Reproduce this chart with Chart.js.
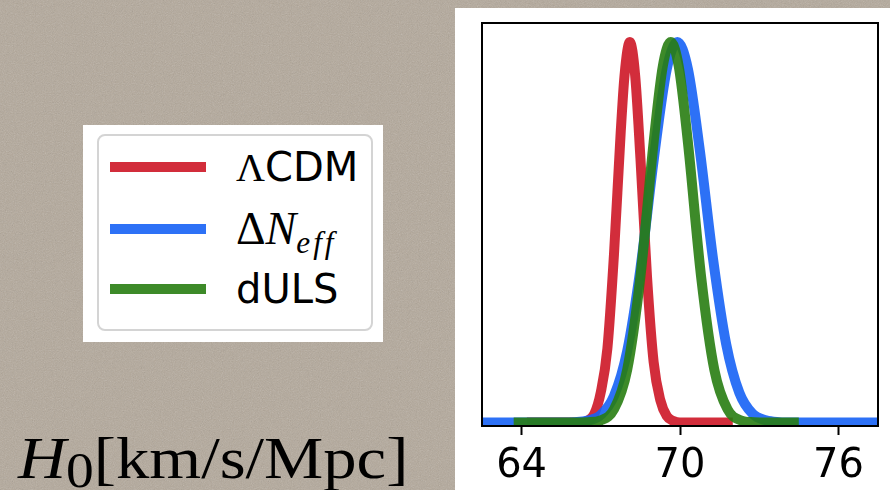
<!DOCTYPE html>
<html>
<head>
<meta charset="utf-8">
<script src="https://cdn.jsdelivr.net/npm/chart.js@4.4.1/dist/chart.umd.min.js"></script>
<style>
  html, body { margin: 0; padding: 0; }
  body {
    width: 890px; height: 490px; overflow: hidden; position: relative;
    background-color: #b3a89a;
    background-image: url("data:image/svg+xml;utf8,<svg xmlns='http://www.w3.org/2000/svg' width='256' height='256'><filter id='n'><feTurbulence type='fractalNoise' baseFrequency='0.9' numOctaves='3' stitchTiles='stitch'/><feColorMatrix type='saturate' values='0'/></filter><rect width='100%' height='100%' filter='url(%23n)' opacity='0.32'/></svg>");
  }
  #panel { position: absolute; left: 455px; top: 8px; width: 435px; height: 482px; background: #fff; }
  #legend { position: absolute; left: 83px; top: 125px; width: 300px; height: 217px; background: #fff; }
  #legend .frame {
    position: absolute; left: 14px; top: 9px; width: 272px; height: 193px;
    border: 2px solid #d4d4d4; border-radius: 8px;
  }
  #legend .row { position: absolute; left: 27px; height: 40px; display: flex; align-items: center; }
  #legend .swatch { width: 96px; height: 10px; margin-right: 30px; }
  #legend .label { font-family: "DejaVu Sans", sans-serif; font-size: 40px; line-height: 40px; color: #000; white-space: nowrap; }
  #legend .cm { font-family: "Liberation Serif", serif; }
  #legend .label.cm { font-size: 46px; }
  #legend .cm i { font-style: italic; }
  #legend .cm sub { font-size: 0.68em; vertical-align: -0.3em; font-style: italic; line-height: 0; letter-spacing: 3px; }
  #xlabel {
    position: absolute; left: 18px; top: 428px; font-family: "Liberation Serif", serif;
    font-size: 60px; line-height: 60px; color: #000; white-space: nowrap;
    transform: scaleX(1.11); transform-origin: left center;
  }
  #xlabel sub { font-size: 50px; vertical-align: -9px; line-height: 0; }
</style>
</head>
<body>
<div id="panel"><canvas id="h0Chart"></canvas></div>

<div id="legend">
  <div class="frame"></div>
  <div class="row" style="top: 22px;"><div class="swatch" id="sw0"></div><div class="label"><span class="cm">Λ</span>CDM</div></div>
  <div class="row" style="top: 84px;"><div class="swatch" id="sw1"></div><div class="label cm">Δ<i>N</i><sub>eff</sub></div></div>
  <div class="row" style="top: 144px;"><div class="swatch" id="sw2"></div><div class="label">dULS</div></div>
</div>

<div id="xlabel"><i>H</i><sub>0</sub>[km/s/Mpc]</div>

<script>
// H0 posteriors (normalised to peak = 1)
const h0Ticks = [64, 70, 76];

const lcdmH0 = [64.2, 66.25, 66.5, 66.75, 67.0, 67.25, 67.5, 67.75, 67.9, 68.1, 68.3, 68.5, 68.75, 69.0, 69.25, 69.5, 69.75, 70.0, 72.0];
const lcdmP  = [0, 0, 0.005, 0.022, 0.08, 0.195, 0.443, 0.758, 0.913, 1, 0.913, 0.696, 0.384, 0.16, 0.06, 0.017, 0.004, 0, 0];

const dneffH0 = [62.5, 65.5, 66.0, 66.5, 67.0, 67.5, 68.0, 68.5, 69.0, 69.5, 69.9, 70.3, 70.75, 71.25, 71.75, 72.25, 72.75, 73.25, 73.75, 74.25, 77.5];
const dneffP  = [0, 0, 0.001, 0.005, 0.02, 0.07, 0.188, 0.404, 0.688, 0.929, 1, 0.929, 0.716, 0.431, 0.206, 0.078, 0.023, 0.006, 0.001, 0, 0];

const dulsH0 = [63.7, 66.0, 66.5, 67.0, 67.5, 68.0, 68.5, 69.0, 69.35, 69.65, 69.95, 70.3, 70.8, 71.3, 71.8, 72.3, 72.8, 73.3, 74.5];
const dulsP  = [0, 0, 0.001, 0.006, 0.035, 0.139, 0.383, 0.736, 0.937, 1, 0.937, 0.736, 0.383, 0.139, 0.035, 0.006, 0.001, 0, 0];

const colors = ['rgba(205,22,38,0.9)', 'rgba(22,98,245,0.9)', 'rgba(40,125,18,0.9)'];

function toPoints(xs, ys) {
    return xs.map((x, i) => ({ x: x, y: ys[i] }));
}

colors.forEach((c, i) => { document.getElementById('sw' + i).style.background = c; });

// black box round the plot area
const frame = {
    id: 'frame',
    afterDatasetsDraw(chart) {
        const { ctx, chartArea: a } = chart;
        ctx.save();
        ctx.strokeStyle = '#000';
        ctx.lineWidth = 2;
        ctx.strokeRect(a.left, a.top, a.right - a.left, a.bottom - a.top);
        ctx.restore();
    }
};

function curve(label, xs, ys, color, order) {
    return {
        label: label,
        data: toPoints(xs, ys),
        borderColor: color,
        borderWidth: 10,
        pointRadius: 0,
        cubicInterpolationMode: 'monotone',
        borderJoinStyle: 'round',
        fill: false,
        clip: 0,
        order: order
    };
}

new Chart(document.getElementById('h0Chart').getContext('2d'), {
    type: 'line',
    data: {
        datasets: [
            curve('ΛCDM', lcdmH0, lcdmP, colors[0], 3),
            curve('ΔNeff', dneffH0, dneffP, colors[1], 2),
            curve('dULS', dulsH0, dulsP, colors[2], 1)
        ]
    },
    options: {
        responsive: true,
        maintainAspectRatio: false,
        animation: false,
        layout: { padding: { left: 27, right: 12, top: 15, bottom: 0 } },
        plugins: { legend: { display: false }, tooltip: { enabled: false } },
        scales: {
            x: {
                type: 'linear',
                min: 62.5,
                max: 77.5,
                afterBuildTicks: (scale) => { scale.ticks = h0Ticks.map(v => ({ value: v })); },
                afterFit: (scale) => { scale.height = 64; },
                grid: { drawOnChartArea: false, tickLength: 9, tickWidth: 2, tickColor: '#000' },
                border: { display: false },
                ticks: {
                    color: '#000',
                    padding: 8,
                    maxRotation: 0,
                    font: { family: 'DejaVu Sans', size: 40 }
                }
            },
            y: {
                display: false,
                min: -0.009,
                max: 1.05
            }
        }
    },
    plugins: [frame]
});
</script>
</body>
</html>
